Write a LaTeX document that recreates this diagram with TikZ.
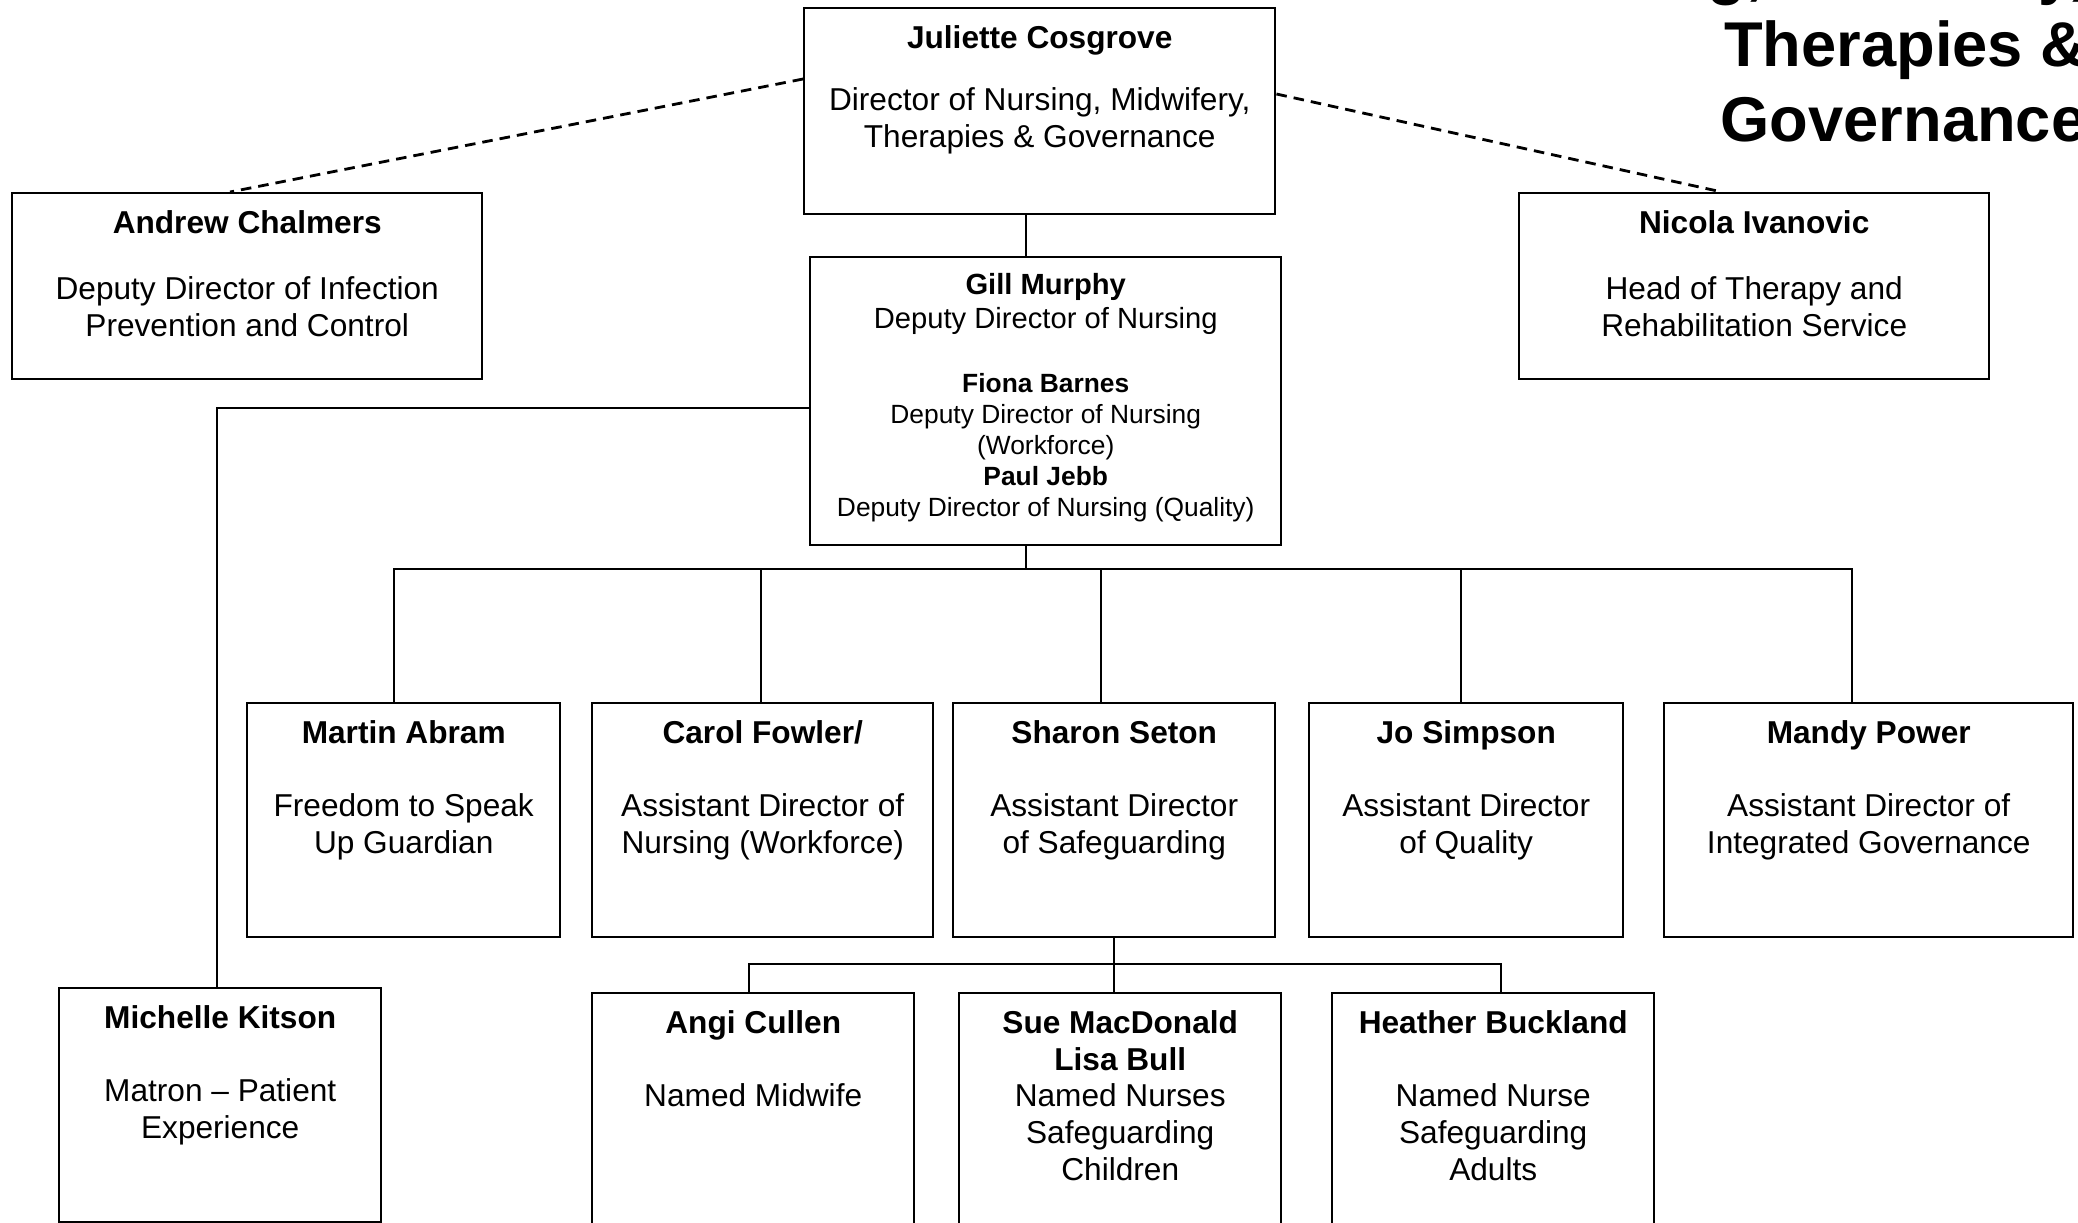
\documentclass[tikz,border=0pt]{standalone}
\usepackage{fontspec}
\setmainfont{Liberation Sans}
\tikzset{
  post/.style={draw, line width=.7pt, inner sep=0pt, anchor=north west},
  txt/.style={anchor=north, align=center, inner sep=0pt, font=\fontsize{9}{10.5}\selectfont, execute at begin node=\strut},
  midtxt/.style={txt, font=\fontsize{8.3}{9.7}\selectfont},
  smalltxt/.style={txt, font=\fontsize{7.5}{8.8}\selectfont},
  headline/.style={anchor=base east, inner sep=0pt, font=\fontsize{18}{21}\selectfont\bfseries},
  link/.style={line width=.55pt},
  report/.style={line width=.8pt, dash pattern=on 3pt off 2pt}
}
\begin{document}
\begin{tikzpicture}[x=.1mm, y=-.1mm]
    \useasboundingbox (0,0) rectangle (2078,1222);
    \clip (0,0) rectangle (2078,1222);

    % title, cut by the page edge
    \node[headline] (t1) at (2087,-8) {Nursing, Midwifery,};
    \node[headline] (t2) at (2087,66) {Therapies \&};
    \node[headline] (t3) at (2087,141) {Governance};

    % boxes
    \node[post, minimum width=47.1mm, minimum height=20.6mm] (jc) at (803,7) {};
    \node[post, minimum width=47.1mm, minimum height=28.8mm] (gm) at (809,256) {};
    \node[post, minimum width=47mm, minimum height=18.6mm] (ac) at (11,192) {};
    \node[post, minimum width=47mm, minimum height=18.6mm] (ni) at (1518,192) {};
    \node[post, minimum width=31.3mm, minimum height=23.4mm] (ma) at (246,702) {};
    \node[post, minimum width=34.1mm, minimum height=23.4mm] (cf) at (591,702) {};
    \node[post, minimum width=32.2mm, minimum height=23.4mm] (ss) at (952,702) {};
    \node[post, minimum width=31.4mm, minimum height=23.4mm] (js) at (1308,702) {};
    \node[post, minimum width=40.9mm, minimum height=23.4mm] (mp) at (1663,702) {};
    \node[post, minimum width=32.2mm, minimum height=23.4mm] (mk) at (58,987) {};
    \node[post, minimum width=32.2mm, minimum height=30mm] (ag) at (591,992) {};
    \node[post, minimum width=32.2mm, minimum height=30mm] (sm) at (958,992) {};
    \node[post, minimum width=32.2mm, minimum height=30mm] (hb) at (1331,992) {};

    % texts
    \node[txt] (jc-t) at ([yshift=-1.75mm]jc.north) {\textbf{Juliette Cosgrove}\\[7.3pt]Director of Nursing, Midwifery,\\Therapies \& Governance};
    \node[midtxt] (gm-t) at ([yshift=-1.65mm]gm.north) {\textbf{Gill Murphy}\\Deputy Director of Nursing};
    \node[smalltxt] (gm-u) at ([yshift=-11.65mm]gm.north) {\textbf{Fiona Barnes}\\Deputy Director of Nursing\\(Workforce)\\\textbf{Paul Jebb}\\Deputy Director of Nursing (Quality)};
    \node[txt] (ac-t) at ([yshift=-1.75mm]ac.north) {\textbf{Andrew Chalmers}\\[8.3pt]Deputy Director of Infection\\Prevention and Control};
    \node[txt] (ni-t) at ([yshift=-1.75mm]ni.north) {\textbf{Nicola Ivanovic}\\[8.3pt]Head of Therapy and\\Rehabilitation Service};
    \node[txt] (ma-t) at ([yshift=-1.75mm]ma.north) {\textbf{Martin Abram}\\[10.3pt]Freedom to Speak\\Up Guardian};
    \node[txt] (cf-t) at ([yshift=-1.75mm]cf.north) {\textbf{Carol Fowler/}\\[10.3pt]Assistant Director of\\Nursing (Workforce)};
    \node[txt] (ss-t) at ([yshift=-1.75mm]ss.north) {\textbf{Sharon Seton}\\[10.3pt]Assistant Director\\of Safeguarding};
    \node[txt] (js-t) at ([yshift=-1.75mm]js.north) {\textbf{Jo Simpson}\\[10.3pt]Assistant Director\\of Quality};
    \node[txt] (mp-t) at ([yshift=-1.75mm]mp.north) {\textbf{Mandy Power}\\[10.3pt]Assistant Director of\\Integrated Governance};
    \node[txt] (mk-t) at ([yshift=-1.75mm]mk.north) {\textbf{Michelle Kitson}\\[10.3pt]Matron -- Patient\\Experience};
    \node[txt] (ag-t) at ([yshift=-1.75mm]ag.north) {\textbf{Angi Cullen}\\[10.3pt]Named Midwife};
    \node[txt] (sm-t) at ([yshift=-1.75mm]sm.north) {\textbf{Sue MacDonald}\\\textbf{Lisa Bull}\\Named Nurses\\Safeguarding\\Children};
    \node[txt] (hb-t) at ([yshift=-1.75mm]hb.north) {\textbf{Heather Buckland}\\[10.3pt]Named Nurse\\Safeguarding\\Adults};

    % lines
    \draw[report] (jc.west |- 0,79) -- (ac.north -| 230,0);
    \draw[report] (jc.east |- 0,94) -- (ni.north -| 1722,0);
    \draw[link] (jc.south -| 1026,0) -- (gm.north -| 1026,0);
    \draw[link] (gm.south -| 1026,0) -- (1026,569);
    \draw[link] (ma.north -| 394,0) -- (394,569) -- (1852,569) -- (mp.north -| 1852,0);
    \foreach \b/\x in {cf/761, ss/1101, js/1461}
    {
       \draw[link] (\x,569) -- (\b.north -| \x,0);
    }
    \draw[link] (gm.west |- 0,408) -| (mk.north -| 217,0);
    \draw[link] (ss.south) -- (sm.north -| ss.south);
    \draw[link] (ag.north -| 749,0) -- (749,964) -- (1501,964) -- (hb.north -| 1501,0);
\end{tikzpicture}
\end{document}
